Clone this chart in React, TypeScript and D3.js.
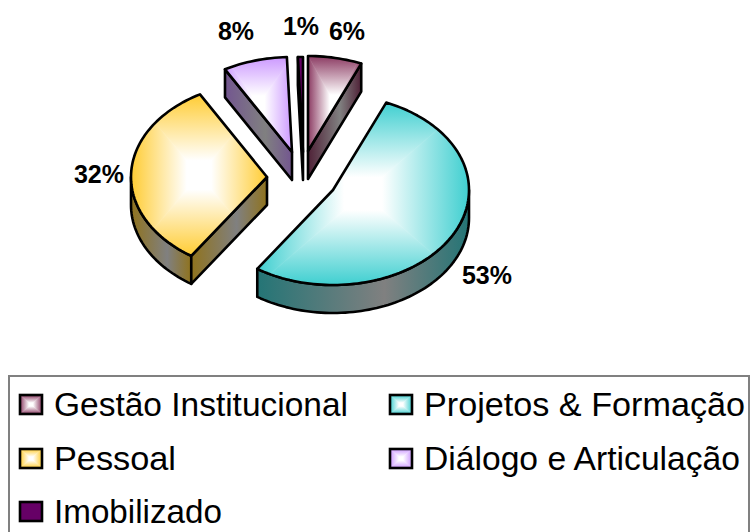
import React from "react";
import * as d3 from "d3";

const categories = ["Gestão Institucional", "Projetos & Formação", "Pessoal", "Diálogo e Articulação", "Imobilizado"];
const shares = [6.4, 53, 32.4, 7.6, 0.6];
const edgeColors = ["#8b3a62", "#3fcfd0", "#ffcc33", "#cc99ff", "#660066"];
const gradientFlags = [true, true, true, true, false];
const apexX = [308, 333, 267, 292, 303];
const apexY = [151, 190, 177, 152, 152];
const labelX = [347, 301, 236, 99, 487];
const labelY = [40, 35, 40, 183, 284];
const labelFor = [0, 4, 3, 2, 1];
const legendX = [20, 390, 20, 390, 20];
const legendY = [395, 395, 449, 449, 502];
const legendWidth = [294, 321, 122, 316, 168];

const RX = 136;
const RY = 95;
const DEPTH = 28;
const TAU = Math.PI * 2;

const pieGen = d3.pie<number>().sort(null).value((d) => d).startAngle(0).endAngle(TAU);
const arcs = pieGen(shares);

type P = [number, number];
const lineGen = d3.line<P>().x((d) => d[0]).y((d) => d[1]);

function rim(i: number, a: number): P {
  return [apexX[i] + RX * Math.sin(a), apexY[i] - RY * Math.cos(a)];
}
function sampled(i: number, a0: number, a1: number): P[] {
  const n = Math.max(2, Math.ceil((a1 - a0) / 0.03));
  const s = d3.scaleLinear().domain([0, n]).range([a0, a1]);
  return d3.range(n + 1).map((k) => rim(i, s(k)));
}
const down = (p: P): P => [p[0], p[1] + DEPTH];
function darker(c: string) {
  return d3.color(c)!.darker(1.6).formatHex();
}

function RectGradient({ id, x0, y0, x1, y1, color, clip }: { id: string; x0: number; y0: number; x1: number; y1: number; color: string; clip?: string }) {
  const cx = (x0 + x1) / 2;
  const cy = (y0 + y1) / 2;
  const sides = [
    { e: [cx, y0], pts: [[x0, y0], [x1, y0], [cx, cy]] },
    { e: [x1, cy], pts: [[x1, y0], [x1, y1], [cx, cy]] },
    { e: [cx, y1], pts: [[x1, y1], [x0, y1], [cx, cy]] },
    { e: [x0, cy], pts: [[x0, y1], [x0, y0], [cx, cy]] },
  ];
  return (
    <g clipPath={clip}>
      <defs>
        {sides.map((s, k) => (
          <linearGradient key={k} id={`${id}-${k}`} gradientUnits="userSpaceOnUse" x1={cx} y1={cy} x2={s.e[0]} y2={s.e[1]}>
            <stop offset="0" stopColor="#fff" />
            <stop offset="0.18" stopColor="#fff" />
            <stop offset="1" stopColor={color} />
          </linearGradient>
        ))}
      </defs>
      {sides.map((s, k) => (
        <polygon key={k} points={s.pts.map((p) => p.join(",")).join(" ")} fill={`url(#${id}-${k})`} stroke={`url(#${id}-${k})`} strokeWidth={0.6} />
      ))}
    </g>
  );
}

function Wall({ pts, id }: { pts: P[]; id: string }) {
  const poly = [...pts, ...pts.slice().reverse().map(down)];
  return <path d={lineGen(poly)! + "Z"} fill={`url(#${id})`} stroke="#000" strokeWidth={2.6} strokeLinejoin="round" />;
}

function Slice({ i }: { i: number }) {
  const { startAngle: a0, endAngle: a1 } = arcs[i];
  const apex: P = [apexX[i], apexY[i]];
  const arcPts = sampled(i, a0, a1);
  const top = [apex, ...arcPts];
  const topD = lineGen(top)! + "Z";
  const color = edgeColors[i];
  const wallId = `wall-${i}`;
  const walls: P[][] = [];
  const f0 = Math.max(a0, Math.PI / 2);
  const f1 = Math.min(a1, (3 * Math.PI) / 2);
  if (f1 > f0) walls.push(sampled(i, f0, f1));
  if (Math.sin(a0) < -1e-6) walls.push([apex, rim(i, a0)]);
  if (Math.sin(a1) > 1e-6) walls.push([apex, rim(i, a1)]);
  const xs = top.map((p) => p[0]);
  const ys = top.map((p) => p[1]);
  const x0 = d3.min(xs)!;
  const x1 = d3.max(xs)!;
  const y0 = d3.min(ys)!;
  const y1 = d3.max(ys)!;
  return (
    <g>
      <defs>
        <linearGradient id={wallId} x1="0" y1="0" x2="1" y2="0">
          <stop offset="0" stopColor={darker(color)} />
          <stop offset="0.6" stopColor="#808080" />
          <stop offset="1" stopColor={darker(color)} />
        </linearGradient>
        <clipPath id={`clip-${i}`}>
          <path d={topD} />
        </clipPath>
      </defs>
      {walls.map((w, k) => (
        <Wall key={k} pts={w} id={wallId} />
      ))}
      {gradientFlags[i] ? (
        <RectGradient id={`top-${i}`} x0={x0} y0={y0} x1={x1} y1={y1} color={color} clip={`url(#clip-${i})`} />
      ) : (
        <path d={topD} fill={color} />
      )}
      <path d={topD} fill="none" stroke="#000" strokeWidth={2.6} strokeLinejoin="round" />
    </g>
  );
}

export default function App() {
  const drawOrder = [3, 4, 0, 2, 1];
  return (
    <svg width={750} height={532} viewBox="0 0 750 532" style={{ position: "absolute", left: 0, top: 0, background: "#fff" }}>
      {drawOrder.map((i) => (
        <Slice key={i} i={i} />
      ))}
      {labelFor.map((c, k) => (
        <text key={k} x={labelX[k]} y={labelY[k]} textAnchor="middle" fontFamily="Liberation Sans" fontWeight="bold" fontSize={25} fill="#000">
          {Math.round(shares[c])}%
        </text>
      ))}
      <rect x={9} y={376} width={740} height={170} fill="none" stroke="#808080" strokeWidth={2} />
      {categories.map((c, i) => {
        const x = legendX[i];
        const y = legendY[i];
        return (
          <g key={c}>
            {gradientFlags[i] ? (
              <RectGradient id={`leg-${i}`} x0={x} y0={y} x1={x + 22} y1={y + 19} color={edgeColors[i]} />
            ) : (
              <rect x={x} y={y} width={22} height={19} fill={edgeColors[i]} />
            )}
            <rect x={x} y={y} width={22} height={19} fill="none" stroke="#000" strokeWidth={2.6} />
            <text x={x + 34} y={y + 21} fontFamily="Liberation Sans" fontSize={34} textLength={legendWidth[i]} lengthAdjust="spacingAndGlyphs" fill="#000">
              {c}
            </text>
          </g>
        );
      })}
    </svg>
  );
}
